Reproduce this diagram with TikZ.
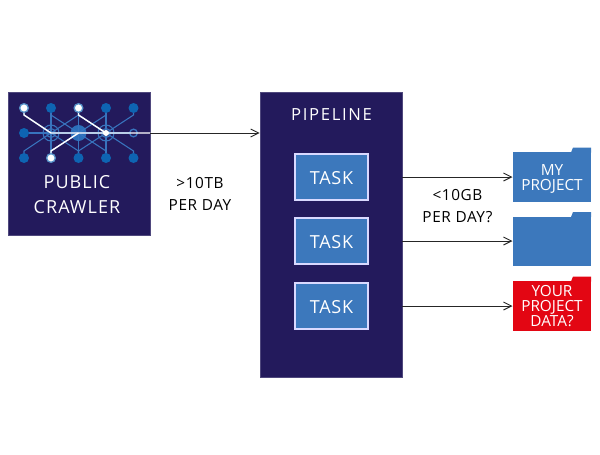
\documentclass[tikz,border=0pt]{standalone}
\usepackage{fontspec}
\setmainfont{Open Sans}
\usetikzlibrary{arrows.meta}
\definecolor{navyfill}{RGB}{35,26,92}
\definecolor{bluefill}{RGB}{60,120,188}
\definecolor{redfill}{RGB}{227,6,19}
\definecolor{dotblue}{RGB}{14,100,178}
\definecolor{netblue}{RGB}{56,116,190}
\tikzset{every picture/.style={line width=0.75pt},
  panel/.style={fill=navyfill,draw=navyfill!80!white,line width=0.5pt,inner sep=0pt},
  taskbox/.style={fill=bluefill,draw=white!85!blue,line width=0.9pt,minimum width=54.75pt,minimum height=34.5pt,inner sep=0pt,text=white,text height=11pt,text depth=0pt,font=\fontsize{13.5}{15}\selectfont\addfontfeatures{LetterSpace=4}},
  folder/.style={fill=#1,minimum width=58.5pt,minimum height=37pt,inner sep=0pt},
  folderlabel/.style={text=white,align=center,inner sep=0pt,font=\fontsize{11.5}{11.25}\selectfont},
  dot/.style={circle,fill=dotblue,inner sep=0pt,minimum size=7.5pt},
  whitedot/.style={circle,fill=white,draw=dotblue!70!white,line width=1pt,inner sep=0pt,minimum size=6.5pt},
  netline/.style={draw=netblue,line width=0.8pt},
  hotline/.style={draw=white,line width=1.1pt},
  flow/.style={-{Straight Barb[length=6pt,width=6pt]},line width=0.7pt,draw=black!85},
  caption/.style={align=center,inner sep=0pt,font=\fontsize{11.5}{16.5}\selectfont\addfontfeatures{LetterSpace=4}}}
\newcommand{\foldertab}[3]{\fill[#3] (#1,#2) -- (#1+2,#2-5) -- (#1+20,#2-5) -- (#1+20,#2) -- cycle;}
\begin{document}
\begin{tikzpicture}[x=0.75pt,y=0.75pt,yscale=-1,xscale=1]
\useasboundingbox (0,0) rectangle (600,454);
% panels
\node [panel,minimum width=106.5pt,minimum height=107.25pt] (crawler) at (79,163.5) {};
\node [panel,minimum width=106.5pt,minimum height=213.75pt] (pipeline) at (331,234.5) {};
\node [text=white,font=\fontsize{12.5}{15}\selectfont\addfontfeatures{LetterSpace=10}] (pipelinelabel) at (331.5,115) {PIPELINE};
\node [text=white,align=center,font=\fontsize{13.5}{18.75}\selectfont\addfontfeatures{LetterSpace=6}] (crawlerlabel) at (77,194.5) {PUBLIC\\CRAWLER};
% network
\foreach \col/\xx in {1/24,2/51,3/78.5,4/106,5/133.5}{
  \foreach \row/\yy in {1/108,2/133,3/158}{
    \coordinate (n\col\row) at (\xx,\yy);
  }
}
\fill [netblue!70!dotblue] (n32) circle (8);
\foreach \hub in {22,42}{
  \draw [netline] (n\hub) circle (8);
  \draw [netline] (n\hub) circle (4.5);
}
% stubs, then diagonals
\foreach \a/\b in {11/22,31/22,21/32,41/32,31/42,51/42}{
  \draw [netline] (n\a) -- ++(0,7) -- (n\b);
}
\foreach \a/\b in {13/22,33/22,23/32,43/32,33/42,53/42}{
  \draw [netline] (n\a) -- ++(0,-7) -- (n\b);
}
\foreach \a/\b in {21/23,31/33,41/43,12/52}{
  \draw [netline] (n\a) -- (n\b);
}
\foreach \d in {21,41,51,12,13,33,43,53}{
  \node [dot] at (n\d) {};
}
\fill [navyfill] (n52) circle (3.5);
\draw [netline,line width=1pt] (n52) circle (3.8);
\draw [hotline] (n11) -- ++(0,7) -- (n22) -- (crawler.east |- n22);
\draw [hotline] (n23) -- ++(0,-7) -- (n32);
\draw [hotline] (n31) -- ++(0,7) -- (n42);
\foreach \d in {11,31,23}{
  \node [whitedot] at (n\d) {};
}
\fill [white] (n42) circle (3);
% tasks
\node [taskbox] (task1) at (331.5,177) {TASK};
\node [taskbox] (task2) at (331.5,241) {TASK};
\node [taskbox] (task3) at (331.5,306) {TASK};
% folders
\node [folder=bluefill] (folder1) at (552,177) {};
\node [folder=bluefill] (folder2) at (552,241.5) {};
\node [folder=redfill] (folder3) at (552,306) {};
\foldertab{571}{152.5}{bluefill}
\foldertab{571}{217}{bluefill}
\foldertab{571}{281.5}{redfill}
\node [folderlabel] (mylabel) at (552,178.5) {MY\\PROJECT};
\node [folderlabel] (yourlabel) at (552,306.5) {YOUR\\PROJECT\\DATA?};
% arrows
\draw [flow] (crawler.east |- n42) -- (pipeline.west |- n42);
\draw [flow] (pipeline.east |- task1) -- (folder1.west |- task1);
\draw [flow] (pipeline.east |- task2) -- (folder2.west |- task2);
\draw [flow] (pipeline.east |- task3) -- (folder3.west |- task3);
\node [caption] (rawrate) at (200,194) {>10TB\\PER DAY};
\node [caption] (outrate) at (457.5,206.5) {<10GB\\PER DAY?};
\end{tikzpicture}
\end{document}
